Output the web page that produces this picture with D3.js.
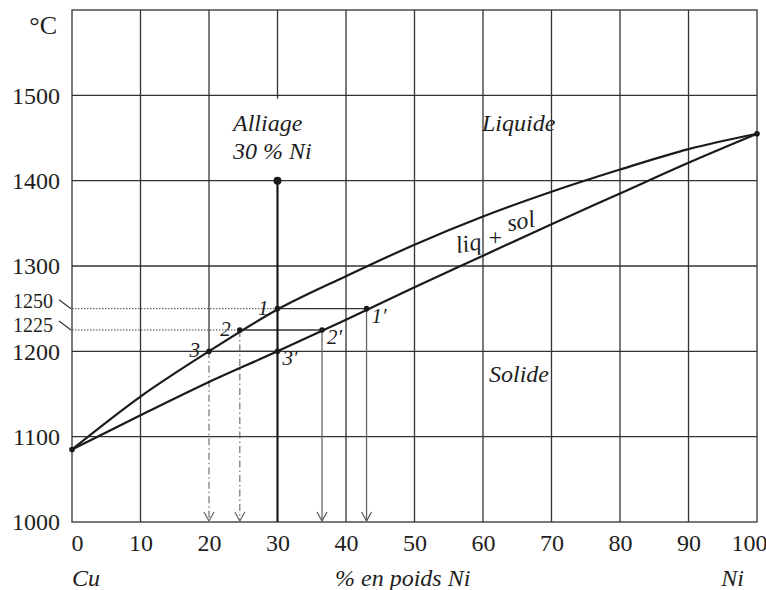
<!DOCTYPE html>
<html>
<head>
	<meta charset="utf-8">
	<title>Cu-Ni</title>
	<script src="https://cdn.jsdelivr.net/npm/d3@7"></script>
	<style>
		body { margin: 0; background: #fff; }
		text { font-family: "Liberation Serif", "DejaVu Serif", serif; fill: #1e1e1e; }
		.it { font-style: italic; }
	</style>
</head>
<body>
	<script>
		var width = 766,
			height = 590;

		// liquidus and solidus (% Ni, °C)
		var liqX = [0, 10, 20, 30, 40, 50, 60, 70, 80, 90, 100];
		var liqT = [1085, 1147, 1200, 1249, 1288, 1325, 1358, 1387, 1413, 1437, 1455];
		var solX = [0, 10, 20, 30, 40, 50, 60, 70, 80, 90, 100];
		var solT = [1085, 1125, 1164, 1200, 1237, 1275, 1312, 1349, 1385, 1421, 1455];

		// tie lines for the 30 % Ni alloy
		var tieT = [1250, 1225, 1200];
		var tieLiq = [30, 24.5, 20];
		var tieSol = [43, 36.5, 30];
		var tieLab = ['1', '2', '3'];

		var alloyX = 30, alloyT = 1400;
		var yTicks = [1000, 1100, 1200, 1300, 1400, 1500];
		var xTicks = [0, 10, 20, 30, 40, 50, 60, 70, 80, 90, 100];

		var svg = d3.select('body').append('svg')
			.attr('width', width).attr('height', height);

		var x = d3.scaleLinear().domain([0, 100]).range([72, 757]);
		var y = d3.scaleLinear().domain([1000, 1600]).range([522, 10]);
		var ink = '#1a1a1a';

		// grid (the 20 line stops at point 3, the 30 line is broken by the alloy label)
		var g = svg.append('g').attr('stroke', '#333').attr('stroke-width', 1.3);
		g.selectAll('.hg').data(yTicks.slice(1)).enter().append('line')
			.attr('x1', x(0)).attr('x2', x(100))
			.attr('y1', function(d){ return y(d); }).attr('y2', function(d){ return y(d); });
		g.selectAll('.vg').data(xTicks.filter(function(d){ return d > 0 && d < 100; }))
			.enter().append('line')
			.attr('y1', function(d){ return d == 20 ? y(1200) : (d == alloyX ? y(1496) : y(1000)); })
			.attr('y2', y(1600))
			.attr('x1', function(d){ return x(d); }).attr('x2', function(d){ return x(d); });
		g.append('rect').attr('x', x(0)).attr('y', y(1600))
			.attr('width', x(100) - x(0)).attr('height', y(1000) - y(1600))
			.attr('fill', 'none');

		// axes
		var yAxis = svg.append('g').attr('transform', 'translate(' + x(0) + ',0)')
			.call(d3.axisLeft(y).tickValues(yTicks).tickSize(0).tickPadding(12).tickFormat(d3.format('d')));
		var xAxis = svg.append('g').attr('transform', 'translate(0,' + y(1000) + ')')
			.call(d3.axisBottom(x).tickValues(xTicks).tickSize(0).tickPadding(12).tickFormat(d3.format('d')));
		[yAxis, xAxis].forEach(function(a){
			a.select('.domain').remove();
			a.selectAll('text').attr('font-family', '"Liberation Serif", serif')
				.attr('font-size', 24).attr('fill', '#1e1e1e');
		});
		xAxis.selectAll('.tick text').attr('dx', function(d){ return d == 0 ? 5 : (d == 100 ? -8 : 0); });

		svg.append('text').attr('x', 57).attr('y', 34).attr('text-anchor', 'end')
			.attr('font-size', 26).text('°C');

		// dotted reference lines and the 1250 / 1225 labels
		[0, 1].forEach(function(i){
			var ty = y(tieT[i]);
			svg.append('line').attr('x1', x(0)).attr('x2', x(tieLiq[i]))
				.attr('y1', ty).attr('y2', ty)
				.attr('stroke', '#444').attr('stroke-width', 1).attr('stroke-dasharray', '1.5,1.5');
			svg.append('line').attr('x1', 59).attr('y1', ty - 9).attr('x2', x(0) - 1).attr('y2', ty)
				.attr('stroke', '#333').attr('stroke-width', 1.2);
			svg.append('text').attr('x', 53).attr('y', ty - 1 + i * 3).attr('text-anchor', 'end')
				.attr('font-size', 20).text(tieT[i]);
		});

		// solid tie lines
		tieT.forEach(function(t, i){
			svg.append('line').attr('x1', x(tieLiq[i])).attr('x2', x(tieSol[i]))
				.attr('y1', y(t)).attr('y2', y(t))
				.attr('stroke', '#333').attr('stroke-width', 1.4);
		});

		// drop lines with open arrowheads
		function arrow(px, col){
			svg.append('path')
				.attr('d', 'M' + (px - 5) + ',' + (y(1000) - 10) + 'L' + px + ',' + (y(1000) - 1) + 'L' + (px + 5) + ',' + (y(1000) - 10))
				.attr('fill', 'none').attr('stroke', col).attr('stroke-width', 1.2);
		}
		[0, 1].forEach(function(i){
			var px = x(tieSol[i]);
			svg.append('line').attr('x1', px).attr('x2', px).attr('y1', y(tieT[i])).attr('y2', y(1000) - 1)
				.attr('stroke', '#666').attr('stroke-width', 1.3);
			arrow(px, '#555');
		});
		[1, 2].forEach(function(i){
			var px = x(tieLiq[i]);
			svg.append('line').attr('x1', px).attr('x2', px).attr('y1', y(tieT[i])).attr('y2', y(1000) - 1)
				.attr('stroke', '#666').attr('stroke-width', 1.1).attr('stroke-dasharray', '7,3,1.5,3');
			arrow(px, '#666');
		});

		// alloy vertical line
		svg.append('line').attr('x1', x(alloyX)).attr('x2', x(alloyX))
			.attr('y1', y(alloyT)).attr('y2', y(1000))
			.attr('stroke', ink).attr('stroke-width', 2.2);
		svg.append('circle').attr('cx', x(alloyX)).attr('cy', y(alloyT)).attr('r', 4).attr('fill', ink);

		// liquidus and solidus curves
		var line = d3.line().curve(d3.curveCatmullRom.alpha(0.5))
			.x(function(d){ return x(d[0]); }).y(function(d){ return y(d[1]); });
		var liq = liqX.map(function(v, i){ return [v, liqT[i]]; });
		var sol = solX.map(function(v, i){ return [v, solT[i]]; });
		svg.selectAll('.curve').data([liq, sol]).enter().append('path')
			.attr('d', line).attr('fill', 'none').attr('stroke', ink).attr('stroke-width', 2.2);
		[[0, liqT[0]], [100, liqT[liqT.length - 1]]].forEach(function(p){
			svg.append('circle').attr('cx', x(p[0])).attr('cy', y(p[1])).attr('r', 2.8).attr('fill', ink);
		});

		// tie points and labels
		tieT.forEach(function(t, i){
			var ty = y(t);
			svg.append('circle').attr('cx', x(tieLiq[i])).attr('cy', ty).attr('r', 2.8).attr('fill', ink);
			svg.append('circle').attr('cx', x(tieSol[i])).attr('cy', ty).attr('r', 2.8).attr('fill', ink);
			svg.append('text').attr('class', 'it').attr('x', x(tieLiq[i]) - 9).attr('y', ty + 6)
				.attr('text-anchor', 'end').attr('font-size', 21).text(tieLab[i]);
			svg.append('text').attr('class', 'it').attr('x', x(tieSol[i]) + 5).attr('y', ty + 14)
				.attr('font-size', 21).text(tieLab[i] + '\u2032');
		});

		// region labels
		function label(tx, ty, s, fs){
			return svg.append('text').attr('class', 'it').attr('x', tx).attr('y', ty)
				.attr('font-size', fs || 24).text(s);
		}
		label(233, 131, 'Alliage');
		label(233, 159, '30 % Ni');
		label(482, 131, 'Liquide');
		label(489, 382, 'Solide');
		label(456, 251, 'liq').attr('transform', 'rotate(-10,470,245)');
		label(487, 245, '+', 24).attr('font-style', 'normal');
		label(507, 229, 'sol').attr('transform', 'rotate(-10,520,222)');

		label(72, 586, 'Cu');
		label(335, 586, '% en poids Ni');
		label(744, 586, 'Ni').attr('text-anchor', 'end');
	</script>
</body>
</html>
